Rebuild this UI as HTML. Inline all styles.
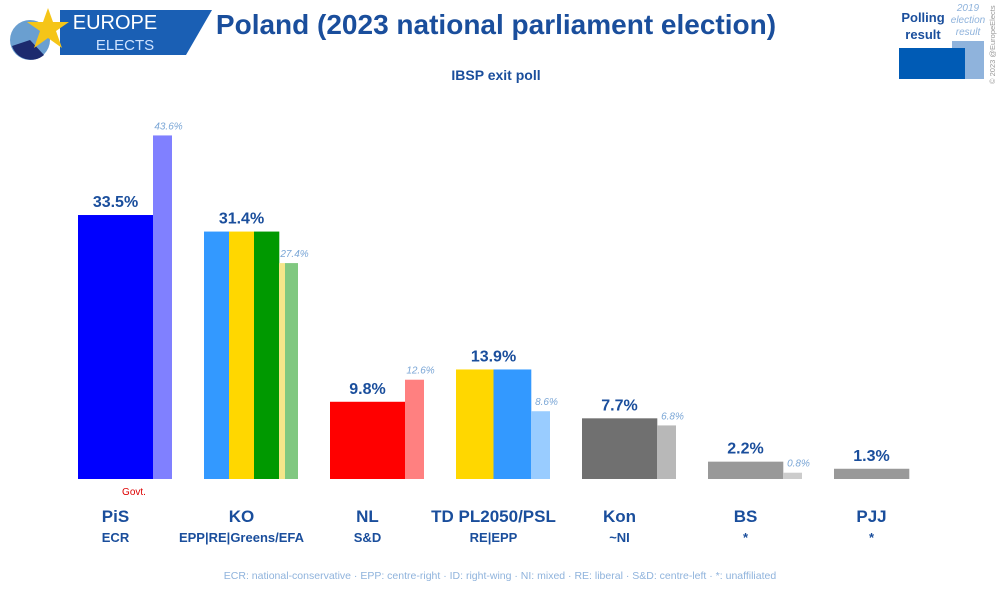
<!DOCTYPE html>
<html><head><meta charset="utf-8"><style>
body{margin:0;background:#fff;font-family:"Liberation Sans",sans-serif;}
#wrap{position:relative;width:1000px;height:591px;overflow:hidden;background:#fff}
text{font-family:"Liberation Sans",sans-serif}
</style></head><body>
<div id="wrap">
<svg id="chart" width="1000" height="591">
 <g>
  <polygon points="60,10 212,10 186,55 60,55" fill="#1a5fb4"/>
  <circle cx="30" cy="40" r="20" fill="#6a9fd0"/>
  <path d="M30,40 L12,46 A20,20 0 0 0 44,55 Z" fill="#1c2a6e"/>
  <polygon points="48,8 53,22 69,22 56,31 62,48 48,38 34,48 40,31 27,22 43,22" fill="#f5c518"/>
  <text x="115" y="29" font-size="20" fill="#fff" text-anchor="middle">EUROPE</text>
  <text x="125" y="50" font-size="15" fill="#cfe3ff" text-anchor="middle">ELECTS</text>
 </g>
 <text x="496" y="34" font-size="28" font-weight="bold" fill="#1a4e9c" text-anchor="middle">Poland (2023 national parliament election)</text>
 <text x="496" y="80" font-size="14" font-weight="bold" fill="#1a4e9c" text-anchor="middle">IBSP exit poll</text>
 <g>
  <rect x="952" y="41" width="32" height="38" fill="#8fb3dc"/>
  <rect x="899" y="48" width="66" height="31" fill="#005bb5"/>
  <text x="923" y="22" font-size="13" font-weight="bold" fill="#1a4e9c" text-anchor="middle">Polling</text>
  <text x="923" y="39" font-size="13" font-weight="bold" fill="#1a4e9c" text-anchor="middle">result</text>
  <text x="968" y="11" font-size="10" font-style="italic" fill="#8fb3dc" text-anchor="middle">2019</text>
  <text x="968" y="23" font-size="10" font-style="italic" fill="#8fb3dc" text-anchor="middle">election</text>
  <text x="968" y="35" font-size="10" font-style="italic" fill="#8fb3dc" text-anchor="middle">result</text>
  <text transform="translate(995,84) rotate(-90)" font-size="7.5" fill="#999">© 2023 @EuropeElects</text>
 </g>
 <g id="bars"></g>
 <text x="500" y="579" font-size="10.5" fill="#8fb3dc" text-anchor="middle">ECR: national-conservative · EPP: centre-right · ID: right-wing · NI: mixed · RE: liberal · S&amp;D: centre-left · *: unaffiliated</text>
</svg>
</div>
<script>
const parties=["PiS","KO","NL","TD PL2050/PSL","Kon","BS","PJJ"];
const groups=["ECR","EPP|RE|Greens/EFA","S&D","RE|EPP","~NI","*","*"];
const poll=[33.5,31.4,9.8,13.9,7.7,2.2,1.3];
const prev=[43.6,27.4,12.6,8.6,6.8,0.8,null];
const colors=[["#0000ff"],["#3399ff","#ffd700","#009900"],["#ff0000"],["#ffd700","#3399ff"],["#707070"],["#999999"],["#999999"]];
const prevColors=[["#8080ff"],["#f5e68a","#80c880"],["#ff8080"],["#99ccff"],["#b8b8b8"],["#cccccc"],[]];
const base=479,ppu=7.88,x0=78,step=126,bw=75,ow=19;
const y=v=>base-v*ppu;
const g=document.getElementById('bars');
const NS="http://www.w3.org/2000/svg";
function mk(t,a){const e=document.createElementNS(NS,t);for(const k in a)e.setAttribute(k,a[k]);g.appendChild(e);return e;}
parties.forEach((p,i)=>{
 const x=x0+i*step;
 const cs=colors[i],sw=bw/cs.length;
 cs.forEach((c,j)=>{
  const r=mk('rect',{x:x+j*sw,y:y(poll[i]),width:sw+0.3,height:poll[i]*ppu,fill:c});
  
  
 });
 const t=mk('text',{x:x+bw/2,y:y(poll[i])-8,'font-size':16,'font-weight':'bold',fill:'#1a4e9c','text-anchor':'middle'});
 t.textContent=poll[i].toFixed(1)+'%';
 
 
 if(prev[i]!=null){
  const pc=prevColors[i];
  const widths=pc.length===2?[6,ow-6]:[ow];let ox=x+bw;
  pc.forEach((c,j)=>{
   const r=mk('rect',{x:ox,y:y(prev[i]),width:widths[j],height:prev[i]*ppu,fill:c});ox+=widths[j];
   
   
  });
  const l=mk('text',{x:x+bw+ow/2+6,y:y(prev[i])-6,'font-size':10,'font-style':'italic',fill:'#7aa6d6','text-anchor':'middle'});
  l.textContent=prev[i].toFixed(1)+'%';
  
  
 }
 const n=mk('text',{x:x+bw/2,y:522,'font-size':17,'font-weight':'bold',fill:'#1a4e9c','text-anchor':'middle'});
 n.textContent=p;
 
 
 const gr=mk('text',{x:x+bw/2,y:542,'font-size':13,'font-weight':'bold',fill:'#1a4e9c','text-anchor':'middle'});
 gr.textContent=groups[i];
 
 
});
const gv=mk('text',{x:134,y:495,'font-size':10,fill:'#dd0000','text-anchor':'middle'});
gv.textContent='Govt.';


</script>
</body></html>
